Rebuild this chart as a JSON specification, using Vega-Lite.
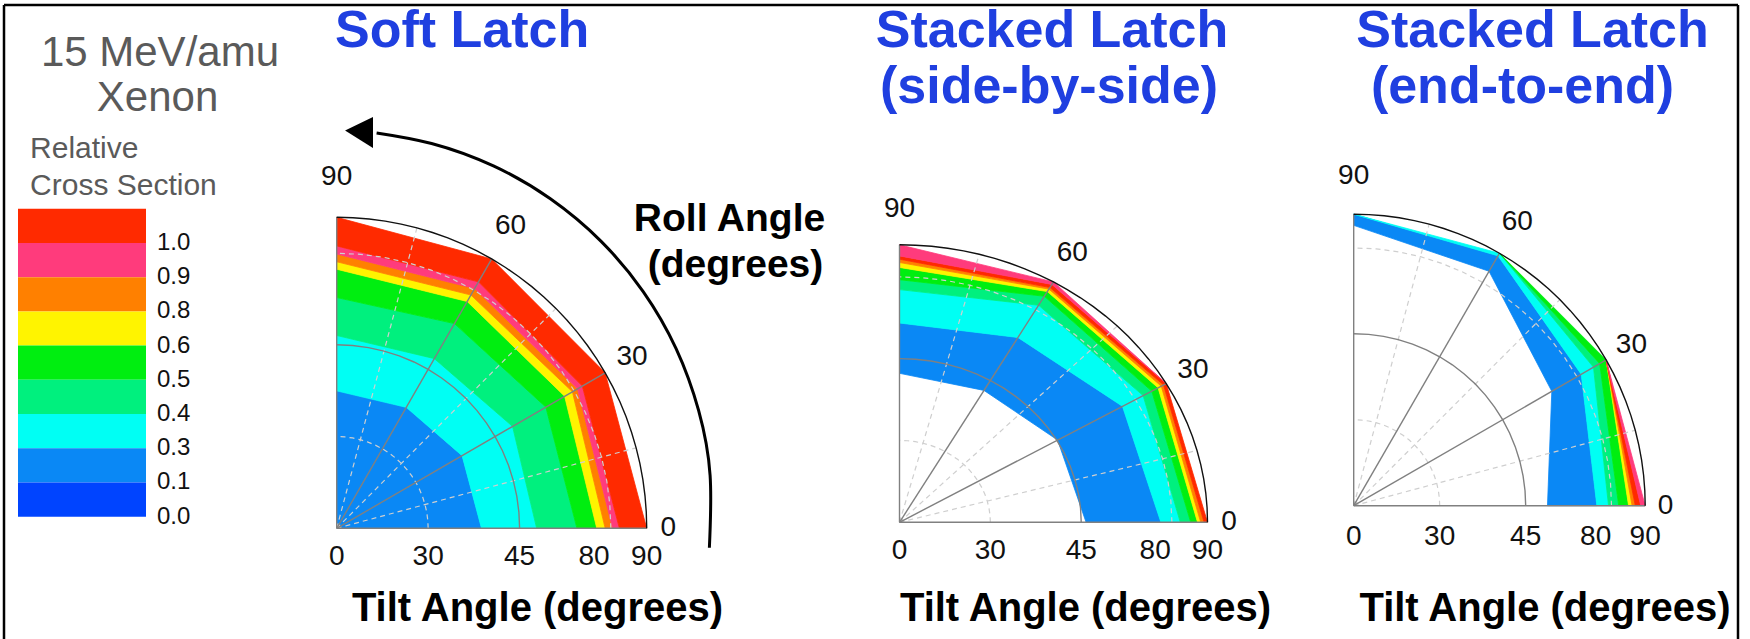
{
"$schema": "https://vega.github.io/schema/vega-lite/v6.json",
"width": 1734, "height": 634,
"autosize": {"type": "none"},
"padding": {"left": 4, "top": 5, "right": 12, "bottom": 0},
"background": "white",
"config": {"view": {"stroke": null}, "text": {"font": "Liberation Sans"}},
"datasets": {
"legend": [
{"b":"1.0+","k":8,"lab":"1.0"},{"b":"0.9-1.0","k":7,"lab":"0.9"},{"b":"0.8-0.9","k":6,"lab":"0.8"},{"b":"0.6-0.8","k":5,"lab":"0.6"},{"b":"0.5-0.6","k":4,"lab":"0.5"},{"b":"0.4-0.5","k":3,"lab":"0.4"},{"b":"0.3-0.4","k":2,"lab":"0.3"},{"b":"0.1-0.3","k":1,"lab":"0.1"},{"b":"0.0-0.1","k":0,"lab":"0.0"}],
"soft": [
{"b":"0.1-0.3","roll":0,"lo":0,"hi":38.75},{"b":"0.1-0.3","roll":30,"lo":0,"hi":38.75},{"b":"0.1-0.3","roll":60,"lo":0,"hi":37.83},{"b":"0.1-0.3","roll":90,"lo":0,"hi":37.47},
{"b":"0.3-0.4","roll":0,"lo":38.75,"hi":53.02},{"b":"0.3-0.4","roll":30,"lo":38.75,"hi":54.48},{"b":"0.3-0.4","roll":60,"lo":37.83,"hi":50.83},{"b":"0.3-0.4","roll":90,"lo":37.47,"hi":49.37},
{"b":"0.4-0.5","roll":0,"lo":53.02,"hi":71.98},{"b":"0.4-0.5","roll":30,"lo":54.48,"hi":72.56},{"b":"0.4-0.5","roll":60,"lo":50.83,"hi":69.79},{"b":"0.4-0.5","roll":90,"lo":49.37,"hi":67.17},
{"b":"0.5-0.6","roll":0,"lo":71.98,"hi":80.53},{"b":"0.5-0.6","roll":30,"lo":72.56,"hi":81.12},{"b":"0.5-0.6","roll":60,"lo":69.79,"hi":80.71},{"b":"0.5-0.6","roll":90,"lo":67.17,"hi":80.18},
{"b":"0.6-0.8","roll":0,"lo":80.53,"hi":82.12},{"b":"0.6-0.8","roll":30,"lo":81.12,"hi":82.82},{"b":"0.6-0.8","roll":60,"lo":80.71,"hi":82.12},{"b":"0.6-0.8","roll":90,"lo":80.18,"hi":81.59},
{"b":"0.8-0.9","roll":0,"lo":82.12,"hi":83.53},{"b":"0.8-0.9","roll":30,"lo":82.82,"hi":83.94},{"b":"0.8-0.9","roll":60,"lo":82.12,"hi":83.53},{"b":"0.8-0.9","roll":90,"lo":81.59,"hi":83.06},
{"b":"0.9-1.0","roll":0,"lo":83.53,"hi":84.82},{"b":"0.9-1.0","roll":30,"lo":83.94,"hi":85.0},{"b":"0.9-1.0","roll":60,"lo":83.53,"hi":85.0},{"b":"0.9-1.0","roll":90,"lo":83.06,"hi":84.59},
{"b":"1.0+","roll":0,"lo":84.82,"hi":90},{"b":"1.0+","roll":30,"lo":85.0,"hi":90},{"b":"1.0+","roll":60,"lo":85.0,"hi":90},{"b":"1.0+","roll":90,"lo":84.59,"hi":90}],
"sbs": [
{"b":"0.1-0.3","roll":0,"lo":47.3,"hi":81.1},{"b":"0.1-0.3","roll":30,"lo":45.4,"hi":80.35},{"b":"0.1-0.3","roll":60,"lo":42.9,"hi":71.1},{"b":"0.1-0.3","roll":90,"lo":42.3,"hi":63.7},
{"b":"0.3-0.4","roll":0,"lo":81.1,"hi":84.8},{"b":"0.3-0.4","roll":30,"lo":80.35,"hi":84.9},{"b":"0.3-0.4","roll":60,"lo":71.1,"hi":84.3},{"b":"0.3-0.4","roll":90,"lo":63.7,"hi":80.5},
{"b":"0.4-0.5","roll":0,"lo":84.8,"hi":86.8},{"b":"0.4-0.5","roll":30,"lo":84.9,"hi":86.8},{"b":"0.4-0.5","roll":60,"lo":84.3,"hi":86.5},{"b":"0.4-0.5","roll":90,"lo":80.5,"hi":82.6},
{"b":"0.5-0.6","roll":0,"lo":86.8,"hi":88.1},{"b":"0.5-0.6","roll":30,"lo":86.8,"hi":88.2},{"b":"0.5-0.6","roll":60,"lo":86.5,"hi":87.65},{"b":"0.5-0.6","roll":90,"lo":82.6,"hi":85.2},
{"b":"0.6-0.8","roll":0,"lo":88.1,"hi":88.7},{"b":"0.6-0.8","roll":30,"lo":88.2,"hi":88.9},{"b":"0.6-0.8","roll":60,"lo":87.65,"hi":88.25},{"b":"0.6-0.8","roll":90,"lo":85.2,"hi":86.25},
{"b":"0.8-0.9","roll":0,"lo":88.7,"hi":89.35},{"b":"0.8-0.9","roll":30,"lo":88.9,"hi":89.4},{"b":"0.8-0.9","roll":60,"lo":88.25,"hi":88.65},{"b":"0.8-0.9","roll":90,"lo":86.25,"hi":86.95},
{"b":"1.0+","roll":0,"lo":89.35,"hi":90},{"b":"1.0+","roll":30,"lo":89.4,"hi":90},{"b":"1.0+","roll":60,"lo":88.65,"hi":89.4},{"b":"1.0+","roll":90,"lo":86.95,"hi":87.65},
{"b":"0.9-1.0","roll":30,"lo":90,"hi":90},{"b":"0.9-1.0","roll":60,"lo":89.4,"hi":90},{"b":"0.9-1.0","roll":90,"lo":87.65,"hi":90}],
"ete": [
{"b":"0.1-0.3","roll":0,"lo":55.9,"hi":80.25},{"b":"0.1-0.3","roll":30,"lo":73.4,"hi":84.2},{"b":"0.1-0.3","roll":60,"lo":85.8,"hi":89.4},{"b":"0.1-0.3","roll":90,"lo":87.75,"hi":90},
{"b":"0.3-0.4","roll":0,"lo":80.25,"hi":82.6},{"b":"0.3-0.4","roll":30,"lo":84.2,"hi":87.05},{"b":"0.3-0.4","roll":60,"lo":89.4,"hi":90},{"b":"0.3-0.4","roll":90,"lo":90,"hi":90},
{"b":"0.4-0.5","roll":0,"lo":82.6,"hi":84.65},{"b":"0.4-0.5","roll":30,"lo":87.05,"hi":88.5},{"b":"0.4-0.5","roll":60,"lo":90,"hi":90},
{"b":"0.5-0.6","roll":0,"lo":84.65,"hi":86.65},{"b":"0.5-0.6","roll":30,"lo":88.5,"hi":90},{"b":"0.5-0.6","roll":60,"lo":90,"hi":90},
{"b":"0.6-0.8","roll":0,"lo":86.65,"hi":87.35},{"b":"0.6-0.8","roll":30,"lo":90,"hi":90},
{"b":"0.8-0.9","roll":0,"lo":87.35,"hi":88.0},{"b":"0.8-0.9","roll":30,"lo":90,"hi":90},
{"b":"1.0+","roll":0,"lo":88.0,"hi":89.1},{"b":"1.0+","roll":30,"lo":90,"hi":90},
{"b":"0.9-1.0","roll":0,"lo":89.1,"hi":90},{"b":"0.9-1.0","roll":30,"lo":90,"hi":90}],
"circles": [
{"t":30,"kind":"minor","roll":[0,5,10,15,20,25,30,35,40,45,50,55,60,65,70,75,80,85,90]},
{"t":45,"kind":"major","roll":[0,5,10,15,20,25,30,35,40,45,50,55,60,65,70,75,80,85,90]},
{"t":83.2,"kind":"minor","roll":[0,5,10,15,20,25,30,35,40,45,50,55,60,65,70,75,80,85,90]},
{"t":90,"kind":"outer","roll":[0,3,6,9,12,15,18,21,24,27,30,33,36,39,42,45,48,51,54,57,60,63,66,69,72,75,78,81,84,87,90]}],
"spokes": [
{"roll":0,"kind":"major","t":[0,90]},{"roll":15,"kind":"minor","t":[0,90]},{"roll":30,"kind":"major","t":[0,90]},{"roll":45,"kind":"minor","t":[0,90]},{"roll":60,"kind":"major","t":[0,90]},{"roll":75,"kind":"minor","t":[0,90]},{"roll":90,"kind":"major","t":[0,90]}],
"tiltTicks": [{"t":0,"lbl":"0"},{"t":30,"lbl":"30"},{"t":45,"lbl":"45"},{"t":80,"lbl":"80"},{"t":90,"lbl":"90"}],
"rollTicks": [{"roll":0,"lbl":"0"},{"roll":30,"lbl":"30"},{"roll":60,"lbl":"60"},{"roll":90,"lbl":"90"}],
"arrow": [{"X":1.2022,"Y":-0.0626,"o":0},{"X":1.2045,"Y":0.1704,"o":1},{"X":1.1674,"Y":0.3791,"o":2},{"X":1.0948,"Y":0.5778,"o":3},{"X":0.9887,"Y":0.7612,"o":4},{"X":0.8522,"Y":0.9235,"o":5},{"X":0.6893,"Y":1.0595,"o":6},{"X":0.5055,"Y":1.1653,"o":7},{"X":0.3061,"Y":1.2374,"o":8},{"X":0.1287,"Y":1.2714,"o":9}],
"arrowHead": [{"X":0.027,"Y":1.2794,"o":0},{"X":0.117,"Y":1.3225,"o":1},{"X":0.117,"Y":1.2228,"o":2}]
},
"resolve": {"scale": {"x": "independent", "y": "independent"}},
"layer": [
{
"data": {"name": "legend"},
"layer": [
{"transform": [{"calculate": "datum.k+1", "as": "k1"}],
 "mark": {"type": "rect"},
 "encoding": {
  "x": {"datum": 0, "type": "quantitative", "scale": {"domain": [-0.1094, 13.4375], "nice": false, "zero": false}, "axis": null},
  "x2": {"datum": 1},
  "y": {"field": "k", "type": "quantitative", "scale": {"domain": [-3.576, 14.956], "nice": false, "zero": false}, "axis": null},
  "y2": {"field": "k1"},
  "color": {"field": "b", "type": "nominal", "scale": {"domain": ["1.0+","0.9-1.0","0.8-0.9","0.6-0.8","0.5-0.6","0.4-0.5","0.3-0.4","0.1-0.3","0.0-0.1"], "range": ["#ff2a00","#ff3b7c","#ff8000","#fff400","#00ee10","#00f07e","#00fff4","#0a88f5","#0044ff"]}, "legend": null}}},
{"mark": {"type": "text", "align": "left", "baseline": "middle", "fontSize": 24, "color": "#111"},
 "encoding": {
  "x": {"datum": 1.086, "type": "quantitative", "scale": {"domain": [-0.1094, 13.4375], "nice": false, "zero": false}, "axis": null},
  "y": {"field": "k", "type": "quantitative", "scale": {"domain": [-3.576, 14.956], "nice": false, "zero": false}, "axis": null},
  "text": {"field": "lab"}}},
{"data": {"values": [{}]},
 "mark": {"type": "rule", "color": "#000", "strokeWidth": 2.5},
 "encoding": {
  "x": {"datum": -0.1094, "type": "quantitative", "scale": {"domain": [-0.1094, 13.4375], "nice": false, "zero": false}, "axis": null},
  "x2": {"datum": 13.4375},
  "y": {"datum": 14.956, "type": "quantitative", "scale": {"domain": [-3.576, 14.956], "nice": false, "zero": false}, "axis": null}}},
{"data": {"values": [{}]},
 "mark": {"type": "rule", "color": "#000", "strokeWidth": 2.5},
 "encoding": {
  "x": {"datum": -0.1094, "type": "quantitative", "scale": {"domain": [-0.1094, 13.4375], "nice": false, "zero": false}, "axis": null},
  "y": {"datum": 14.956, "type": "quantitative", "scale": {"domain": [-3.576, 14.956], "nice": false, "zero": false}, "axis": null},
  "y2": {"datum": -3.576}}},
{"data": {"values": [{}]},
 "mark": {"type": "rule", "color": "#000", "strokeWidth": 2.5},
 "encoding": {
  "x": {"datum": 13.4375, "type": "quantitative", "scale": {"domain": [-0.1094, 13.4375], "nice": false, "zero": false}, "axis": null},
  "y": {"datum": 14.956, "type": "quantitative", "scale": {"domain": [-3.576, 14.956], "nice": false, "zero": false}, "axis": null},
  "y2": {"datum": -3.576}}},
{"data": {"values": [{}]},
 "mark": {"type": "text", "text": "15 MeV/amu", "align": "center", "baseline": "middle", "fontSize": 42, "color": "#5a5a5a"},
 "encoding": {
  "x": {"datum": 1.109, "type": "quantitative", "scale": {"domain": [-0.1094, 13.4375], "nice": false, "zero": false}, "axis": null},
  "y": {"datum": 13.567, "type": "quantitative", "scale": {"domain": [-3.576, 14.956], "nice": false, "zero": false}, "axis": null}}},
{"data": {"values": [{}]},
 "mark": {"type": "text", "text": "Xenon", "align": "center", "baseline": "middle", "fontSize": 42, "color": "#5a5a5a"},
 "encoding": {
  "x": {"datum": 1.09, "type": "quantitative", "scale": {"domain": [-0.1094, 13.4375], "nice": false, "zero": false}, "axis": null},
  "y": {"datum": 12.237, "type": "quantitative", "scale": {"domain": [-3.576, 14.956], "nice": false, "zero": false}, "axis": null}}},
{"data": {"values": [{}]},
 "mark": {"type": "text", "text": "Relative", "align": "left", "baseline": "middle", "fontSize": 30, "color": "#5a5a5a"},
 "encoding": {
  "x": {"datum": 0.094, "type": "quantitative", "scale": {"domain": [-0.1094, 13.4375], "nice": false, "zero": false}, "axis": null},
  "y": {"datum": 10.76, "type": "quantitative", "scale": {"domain": [-3.576, 14.956], "nice": false, "zero": false}, "axis": null}}},
{"data": {"values": [{}]},
 "mark": {"type": "text", "text": "Cross Section", "align": "left", "baseline": "middle", "fontSize": 30, "color": "#5a5a5a"},
 "encoding": {
  "x": {"datum": 0.094, "type": "quantitative", "scale": {"domain": [-0.1094, 13.4375], "nice": false, "zero": false}, "axis": null},
  "y": {"datum": 9.664, "type": "quantitative", "scale": {"domain": [-3.576, 14.956], "nice": false, "zero": false}, "axis": null}}}
]
},
{
"encoding": {
 "x": {"field": "X", "type": "quantitative", "scale": {"domain": [-1.07323, 4.52032], "nice": false, "zero": false}, "axis": null},
 "y": {"field": "Y", "type": "quantitative", "scale": {"domain": [-0.35595, 1.68264], "nice": false, "zero": false}, "axis": null}},
"layer": [
{"data": {"name": "soft"},
 "transform": [{"fold": ["lo","hi"], "as": ["edge","t"]},
  {"calculate": "datum.edge=='hi' ? datum.roll : 1000-datum.roll", "as": "ord"},
  {"calculate": "datum.t<=30 ? datum.t*0.295/30 : datum.t<=45 ? 0.295+(datum.t-30)*0.295/15 : datum.t<=80 ? 0.59+(datum.t-45)*0.24/35 : 0.83+(datum.t-80)*0.017", "as": "r"},
  {"calculate": "datum.r*cos(datum.roll*PI/180)", "as": "X"},
  {"calculate": "datum.r*sin(datum.roll*PI/180)", "as": "Y"}],
 "mark": {"type": "line", "filled": true, "interpolate": "linear-closed", "strokeWidth": 0.8},
 "encoding": {
  "color": {"field": "b", "type": "nominal", "scale": {"domain": ["1.0+","0.9-1.0","0.8-0.9","0.6-0.8","0.5-0.6","0.4-0.5","0.3-0.4","0.1-0.3","0.0-0.1"], "range": ["#ff2a00","#ff3b7c","#ff8000","#fff400","#00ee10","#00f07e","#00fff4","#0a88f5","#0044ff"]}, "legend": null},
  "stroke": {"field": "b", "type": "nominal", "scale": {"domain": ["1.0+","0.9-1.0","0.8-0.9","0.6-0.8","0.5-0.6","0.4-0.5","0.3-0.4","0.1-0.3","0.0-0.1"], "range": ["#ff2a00","#ff3b7c","#ff8000","#fff400","#00ee10","#00f07e","#00fff4","#0a88f5","#0044ff"]}, "legend": null},
  "order": {"field": "ord", "type": "quantitative"}}},
{"data": {"name": "circles"},
 "transform": [{"filter": "datum.kind=='minor'"}, {"flatten": ["roll"]},
  {"calculate": "datum.t<=30 ? datum.t*0.295/30 : datum.t<=45 ? 0.295+(datum.t-30)*0.295/15 : datum.t<=80 ? 0.59+(datum.t-45)*0.24/35 : 0.83+(datum.t-80)*0.017", "as": "r"},
  {"calculate": "datum.r*cos(datum.roll*PI/180)", "as": "X"},
  {"calculate": "datum.r*sin(datum.roll*PI/180)", "as": "Y"}],
 "mark": {"type": "line", "color": "#cfcfcf", "strokeWidth": 1.2, "strokeDash": [5,4]},
 "encoding": {"detail": {"field": "t", "type": "nominal"}, "order": {"field": "roll", "type": "quantitative"}}},
{"data": {"name": "spokes"},
 "transform": [{"filter": "datum.kind=='minor'"}, {"flatten": ["t"]},
  {"calculate": "datum.t<=30 ? datum.t*0.295/30 : datum.t<=45 ? 0.295+(datum.t-30)*0.295/15 : datum.t<=80 ? 0.59+(datum.t-45)*0.24/35 : 0.83+(datum.t-80)*0.017", "as": "r"},
  {"calculate": "datum.r*cos(datum.roll*PI/180)", "as": "X"},
  {"calculate": "datum.r*sin(datum.roll*PI/180)", "as": "Y"}],
 "mark": {"type": "line", "color": "#cfcfcf", "strokeWidth": 1.2, "strokeDash": [5,4]},
 "encoding": {"detail": {"field": "roll", "type": "nominal"}, "order": {"field": "t", "type": "quantitative"}}},
{"data": {"name": "circles"},
 "transform": [{"filter": "datum.kind=='major'"}, {"flatten": ["roll"]},
  {"calculate": "datum.t<=30 ? datum.t*0.295/30 : datum.t<=45 ? 0.295+(datum.t-30)*0.295/15 : datum.t<=80 ? 0.59+(datum.t-45)*0.24/35 : 0.83+(datum.t-80)*0.017", "as": "r"},
  {"calculate": "datum.r*cos(datum.roll*PI/180)", "as": "X"},
  {"calculate": "datum.r*sin(datum.roll*PI/180)", "as": "Y"}],
 "mark": {"type": "line", "color": "#808080", "strokeWidth": 1.4},
 "encoding": {"detail": {"field": "t", "type": "nominal"}, "order": {"field": "roll", "type": "quantitative"}}},
{"data": {"name": "spokes"},
 "transform": [{"filter": "datum.kind=='major'"}, {"flatten": ["t"]},
  {"calculate": "datum.t<=30 ? datum.t*0.295/30 : datum.t<=45 ? 0.295+(datum.t-30)*0.295/15 : datum.t<=80 ? 0.59+(datum.t-45)*0.24/35 : 0.83+(datum.t-80)*0.017", "as": "r"},
  {"calculate": "datum.r*cos(datum.roll*PI/180)", "as": "X"},
  {"calculate": "datum.r*sin(datum.roll*PI/180)", "as": "Y"}],
 "mark": {"type": "line", "color": "#808080", "strokeWidth": 1.4},
 "encoding": {"detail": {"field": "roll", "type": "nominal"}, "order": {"field": "t", "type": "quantitative"}}},
{"data": {"name": "circles"},
 "transform": [{"filter": "datum.kind=='outer'"}, {"flatten": ["roll"]},
  {"calculate": "1", "as": "r"},
  {"calculate": "datum.r*cos(datum.roll*PI/180)", "as": "X"},
  {"calculate": "datum.r*sin(datum.roll*PI/180)", "as": "Y"}],
 "mark": {"type": "line", "color": "#111", "strokeWidth": 1.4},
 "encoding": {"detail": {"field": "t", "type": "nominal"}, "order": {"field": "roll", "type": "quantitative"}}},
{"data": {"name": "tiltTicks"},
 "transform": [
  {"calculate": "datum.t<=30 ? datum.t*0.295/30 : datum.t<=45 ? 0.295+(datum.t-30)*0.295/15 : datum.t<=80 ? 0.59+(datum.t-45)*0.24/35 : 0.83+(datum.t-80)*0.017", "as": "X"},
  {"calculate": "0", "as": "Y"}],
 "mark": {"type": "text", "fontSize": 28, "baseline": "middle", "dy": 29, "color": "#111"},
 "encoding": {"text": {"field": "lbl"}}},
{"data": {"name": "rollTicks"},
 "transform": [
  {"calculate": "1.07+0.06*sin(datum.roll*PI/180)", "as": "rr"},
  {"calculate": "datum.rr*cos(datum.roll*PI/180)", "as": "X"},
  {"calculate": "datum.rr*sin(datum.roll*PI/180)", "as": "Y"}],
 "mark": {"type": "text", "fontSize": 28, "baseline": "middle", "color": "#111"},
 "encoding": {"text": {"field": "lbl"}}},
{"data": {"name": "arrow"},
 "mark": {"type": "line", "color": "#000", "strokeWidth": 3, "interpolate": "natural"},
 "encoding": {"order": {"field": "o", "type": "quantitative"}}},
{"data": {"name": "arrowHead"},
 "mark": {"type": "line", "filled": true, "color": "#000", "interpolate": "linear-closed"},
 "encoding": {"order": {"field": "o", "type": "quantitative"}}}
]
},
{
"data": {"values": [{}]},
"layer": [
{"mark": {"type": "text", "text": "Soft Latch", "align": "left", "baseline": "middle", "fontSize": 52, "fontWeight": "bold", "color": "#1f3fe0"},
 "encoding": {
  "x": {"datum": -0.0055, "type": "quantitative", "scale": {"domain": [-1.07323, 4.52032], "nice": false, "zero": false}, "axis": null},
  "y": {"datum": 1.5997, "type": "quantitative", "scale": {"domain": [-0.35595, 1.68264], "nice": false, "zero": false}, "axis": null}}},
{"mark": {"type": "text", "text": "Roll Angle", "align": "center", "baseline": "middle", "fontSize": 39, "fontWeight": "bold", "color": "#000"},
 "encoding": {
  "x": {"datum": 1.2671, "type": "quantitative", "scale": {"domain": [-1.07323, 4.52032], "nice": false, "zero": false}, "axis": null},
  "y": {"datum": 0.9945, "type": "quantitative", "scale": {"domain": [-0.35595, 1.68264], "nice": false, "zero": false}, "axis": null}}},
{"mark": {"type": "text", "text": "(degrees)", "align": "center", "baseline": "middle", "fontSize": 39, "fontWeight": "bold", "color": "#000"},
 "encoding": {
  "x": {"datum": 1.2865, "type": "quantitative", "scale": {"domain": [-1.07323, 4.52032], "nice": false, "zero": false}, "axis": null},
  "y": {"datum": 0.8466, "type": "quantitative", "scale": {"domain": [-0.35595, 1.68264], "nice": false, "zero": false}, "axis": null}}},
{"mark": {"type": "text", "text": "Tilt Angle (degrees)", "align": "center", "baseline": "middle", "fontSize": 40, "fontWeight": "bold", "color": "#000"},
 "encoding": {
  "x": {"datum": 0.6477, "type": "quantitative", "scale": {"domain": [-1.07323, 4.52032], "nice": false, "zero": false}, "axis": null},
  "y": {"datum": -0.2595, "type": "quantitative", "scale": {"domain": [-0.35595, 1.68264], "nice": false, "zero": false}, "axis": null}}}
]
},
{
"encoding": {
 "x": {"field": "X", "type": "quantitative", "scale": {"domain": [-2.90747, 2.7224], "nice": false, "zero": false}, "axis": null},
 "y": {"field": "Y", "type": "quantitative", "scale": {"domain": [-0.42054, 1.86414], "nice": false, "zero": false}, "axis": null}},
"layer": [
{"data": {"name": "sbs"},
 "transform": [{"fold": ["lo","hi"], "as": ["edge","t"]},
  {"calculate": "datum.edge=='hi' ? datum.roll : 1000-datum.roll", "as": "ord"},
  {"calculate": "datum.t<=30 ? datum.t*0.295/30 : datum.t<=45 ? 0.295+(datum.t-30)*0.295/15 : datum.t<=80 ? 0.59+(datum.t-45)*0.24/35 : 0.83+(datum.t-80)*0.017", "as": "r"},
  {"calculate": "datum.r*cos(datum.roll*PI/180)", "as": "X"},
  {"calculate": "datum.r*sin(datum.roll*PI/180)", "as": "Y"}],
 "mark": {"type": "line", "filled": true, "interpolate": "linear-closed", "strokeWidth": 0.8},
 "encoding": {
  "color": {"field": "b", "type": "nominal", "scale": {"domain": ["1.0+","0.9-1.0","0.8-0.9","0.6-0.8","0.5-0.6","0.4-0.5","0.3-0.4","0.1-0.3","0.0-0.1"], "range": ["#ff2a00","#ff3b7c","#ff8000","#fff400","#00ee10","#00f07e","#00fff4","#0a88f5","#0044ff"]}, "legend": null},
  "stroke": {"field": "b", "type": "nominal", "scale": {"domain": ["1.0+","0.9-1.0","0.8-0.9","0.6-0.8","0.5-0.6","0.4-0.5","0.3-0.4","0.1-0.3","0.0-0.1"], "range": ["#ff2a00","#ff3b7c","#ff8000","#fff400","#00ee10","#00f07e","#00fff4","#0a88f5","#0044ff"]}, "legend": null},
  "order": {"field": "ord", "type": "quantitative"}}},
{"data": {"name": "circles"},
 "transform": [{"filter": "datum.kind=='minor'"}, {"flatten": ["roll"]},
  {"calculate": "datum.t<=30 ? datum.t*0.295/30 : datum.t<=45 ? 0.295+(datum.t-30)*0.295/15 : datum.t<=80 ? 0.59+(datum.t-45)*0.24/35 : 0.83+(datum.t-80)*0.017", "as": "r"},
  {"calculate": "datum.r*cos(datum.roll*PI/180)", "as": "X"},
  {"calculate": "datum.r*sin(datum.roll*PI/180)", "as": "Y"}],
 "mark": {"type": "line", "color": "#cfcfcf", "strokeWidth": 1.2, "strokeDash": [5,4]},
 "encoding": {"detail": {"field": "t", "type": "nominal"}, "order": {"field": "roll", "type": "quantitative"}}},
{"data": {"name": "spokes"},
 "transform": [{"filter": "datum.kind=='minor'"}, {"flatten": ["t"]},
  {"calculate": "datum.t<=30 ? datum.t*0.295/30 : datum.t<=45 ? 0.295+(datum.t-30)*0.295/15 : datum.t<=80 ? 0.59+(datum.t-45)*0.24/35 : 0.83+(datum.t-80)*0.017", "as": "r"},
  {"calculate": "datum.r*cos(datum.roll*PI/180)", "as": "X"},
  {"calculate": "datum.r*sin(datum.roll*PI/180)", "as": "Y"}],
 "mark": {"type": "line", "color": "#cfcfcf", "strokeWidth": 1.2, "strokeDash": [5,4]},
 "encoding": {"detail": {"field": "roll", "type": "nominal"}, "order": {"field": "t", "type": "quantitative"}}},
{"data": {"name": "circles"},
 "transform": [{"filter": "datum.kind=='major'"}, {"flatten": ["roll"]},
  {"calculate": "datum.t<=30 ? datum.t*0.295/30 : datum.t<=45 ? 0.295+(datum.t-30)*0.295/15 : datum.t<=80 ? 0.59+(datum.t-45)*0.24/35 : 0.83+(datum.t-80)*0.017", "as": "r"},
  {"calculate": "datum.r*cos(datum.roll*PI/180)", "as": "X"},
  {"calculate": "datum.r*sin(datum.roll*PI/180)", "as": "Y"}],
 "mark": {"type": "line", "color": "#808080", "strokeWidth": 1.4},
 "encoding": {"detail": {"field": "t", "type": "nominal"}, "order": {"field": "roll", "type": "quantitative"}}},
{"data": {"name": "spokes"},
 "transform": [{"filter": "datum.kind=='major'"}, {"flatten": ["t"]},
  {"calculate": "datum.t<=30 ? datum.t*0.295/30 : datum.t<=45 ? 0.295+(datum.t-30)*0.295/15 : datum.t<=80 ? 0.59+(datum.t-45)*0.24/35 : 0.83+(datum.t-80)*0.017", "as": "r"},
  {"calculate": "datum.r*cos(datum.roll*PI/180)", "as": "X"},
  {"calculate": "datum.r*sin(datum.roll*PI/180)", "as": "Y"}],
 "mark": {"type": "line", "color": "#808080", "strokeWidth": 1.4},
 "encoding": {"detail": {"field": "roll", "type": "nominal"}, "order": {"field": "t", "type": "quantitative"}}},
{"data": {"name": "circles"},
 "transform": [{"filter": "datum.kind=='outer'"}, {"flatten": ["roll"]},
  {"calculate": "1", "as": "r"},
  {"calculate": "datum.r*cos(datum.roll*PI/180)", "as": "X"},
  {"calculate": "datum.r*sin(datum.roll*PI/180)", "as": "Y"}],
 "mark": {"type": "line", "color": "#111", "strokeWidth": 1.4},
 "encoding": {"detail": {"field": "t", "type": "nominal"}, "order": {"field": "roll", "type": "quantitative"}}},
{"data": {"name": "tiltTicks"},
 "transform": [
  {"calculate": "datum.t<=30 ? datum.t*0.295/30 : datum.t<=45 ? 0.295+(datum.t-30)*0.295/15 : datum.t<=80 ? 0.59+(datum.t-45)*0.24/35 : 0.83+(datum.t-80)*0.017", "as": "X"},
  {"calculate": "0", "as": "Y"}],
 "mark": {"type": "text", "fontSize": 28, "baseline": "middle", "dy": 29, "color": "#111"},
 "encoding": {"text": {"field": "lbl"}}},
{"data": {"name": "rollTicks"},
 "transform": [
  {"calculate": "1.07+0.06*sin(datum.roll*PI/180)", "as": "rr"},
  {"calculate": "datum.rr*cos(datum.roll*PI/180)", "as": "X"},
  {"calculate": "datum.rr*sin(datum.roll*PI/180)", "as": "Y"}],
 "mark": {"type": "text", "fontSize": 28, "baseline": "middle", "color": "#111"},
 "encoding": {"text": {"field": "lbl"}}}
]
},
{
"data": {"values": [{}]},
"layer": [
{"mark": {"type": "text", "text": "Stacked Latch", "align": "center", "baseline": "middle", "fontSize": 52, "fontWeight": "bold", "color": "#1f3fe0"},
 "encoding": {
  "x": {"datum": 0.4951, "type": "quantitative", "scale": {"domain": [-2.90747, 2.7224], "nice": false, "zero": false}, "axis": null},
  "y": {"datum": 1.7705, "type": "quantitative", "scale": {"domain": [-0.42054, 1.86414], "nice": false, "zero": false}, "axis": null}}},
{"mark": {"type": "text", "text": "(side-by-side)", "align": "center", "baseline": "middle", "fontSize": 52, "fontWeight": "bold", "color": "#1f3fe0"},
 "encoding": {
  "x": {"datum": 0.4854, "type": "quantitative", "scale": {"domain": [-2.90747, 2.7224], "nice": false, "zero": false}, "axis": null},
  "y": {"datum": 1.5686, "type": "quantitative", "scale": {"domain": [-0.42054, 1.86414], "nice": false, "zero": false}, "axis": null}}},
{"mark": {"type": "text", "text": "Tilt Angle (degrees)", "align": "center", "baseline": "middle", "fontSize": 40, "fontWeight": "bold", "color": "#000"},
 "encoding": {
  "x": {"datum": 0.6039, "type": "quantitative", "scale": {"domain": [-2.90747, 2.7224], "nice": false, "zero": false}, "axis": null},
  "y": {"datum": -0.3124, "type": "quantitative", "scale": {"domain": [-0.42054, 1.86414], "nice": false, "zero": false}, "axis": null}}}
]
},
{
"encoding": {
 "x": {"field": "X", "type": "quantitative", "scale": {"domain": [-4.63019, 1.31835], "nice": false, "zero": false}, "axis": null},
 "y": {"field": "Y", "type": "quantitative", "scale": {"domain": [-0.45729, 1.71767], "nice": false, "zero": false}, "axis": null}},
"layer": [
{"data": {"name": "ete"},
 "transform": [{"fold": ["lo","hi"], "as": ["edge","t"]},
  {"calculate": "datum.edge=='hi' ? datum.roll : 1000-datum.roll", "as": "ord"},
  {"calculate": "datum.t<=30 ? datum.t*0.295/30 : datum.t<=45 ? 0.295+(datum.t-30)*0.295/15 : datum.t<=80 ? 0.59+(datum.t-45)*0.24/35 : 0.83+(datum.t-80)*0.017", "as": "r"},
  {"calculate": "datum.r*cos(datum.roll*PI/180)", "as": "X"},
  {"calculate": "datum.r*sin(datum.roll*PI/180)", "as": "Y"}],
 "mark": {"type": "line", "filled": true, "interpolate": "linear-closed", "strokeWidth": 0.8},
 "encoding": {
  "color": {"field": "b", "type": "nominal", "scale": {"domain": ["1.0+","0.9-1.0","0.8-0.9","0.6-0.8","0.5-0.6","0.4-0.5","0.3-0.4","0.1-0.3","0.0-0.1"], "range": ["#ff2a00","#ff3b7c","#ff8000","#fff400","#00ee10","#00f07e","#00fff4","#0a88f5","#0044ff"]}, "legend": null},
  "stroke": {"field": "b", "type": "nominal", "scale": {"domain": ["1.0+","0.9-1.0","0.8-0.9","0.6-0.8","0.5-0.6","0.4-0.5","0.3-0.4","0.1-0.3","0.0-0.1"], "range": ["#ff2a00","#ff3b7c","#ff8000","#fff400","#00ee10","#00f07e","#00fff4","#0a88f5","#0044ff"]}, "legend": null},
  "order": {"field": "ord", "type": "quantitative"}}},
{"data": {"name": "circles"},
 "transform": [{"filter": "datum.kind=='minor'"}, {"flatten": ["roll"]},
  {"calculate": "datum.t<=30 ? datum.t*0.295/30 : datum.t<=45 ? 0.295+(datum.t-30)*0.295/15 : datum.t<=80 ? 0.59+(datum.t-45)*0.24/35 : 0.83+(datum.t-80)*0.017", "as": "r"},
  {"calculate": "datum.r*cos(datum.roll*PI/180)", "as": "X"},
  {"calculate": "datum.r*sin(datum.roll*PI/180)", "as": "Y"}],
 "mark": {"type": "line", "color": "#cfcfcf", "strokeWidth": 1.2, "strokeDash": [5,4]},
 "encoding": {"detail": {"field": "t", "type": "nominal"}, "order": {"field": "roll", "type": "quantitative"}}},
{"data": {"name": "spokes"},
 "transform": [{"filter": "datum.kind=='minor'"}, {"flatten": ["t"]},
  {"calculate": "datum.t<=30 ? datum.t*0.295/30 : datum.t<=45 ? 0.295+(datum.t-30)*0.295/15 : datum.t<=80 ? 0.59+(datum.t-45)*0.24/35 : 0.83+(datum.t-80)*0.017", "as": "r"},
  {"calculate": "datum.r*cos(datum.roll*PI/180)", "as": "X"},
  {"calculate": "datum.r*sin(datum.roll*PI/180)", "as": "Y"}],
 "mark": {"type": "line", "color": "#cfcfcf", "strokeWidth": 1.2, "strokeDash": [5,4]},
 "encoding": {"detail": {"field": "roll", "type": "nominal"}, "order": {"field": "t", "type": "quantitative"}}},
{"data": {"name": "circles"},
 "transform": [{"filter": "datum.kind=='major'"}, {"flatten": ["roll"]},
  {"calculate": "datum.t<=30 ? datum.t*0.295/30 : datum.t<=45 ? 0.295+(datum.t-30)*0.295/15 : datum.t<=80 ? 0.59+(datum.t-45)*0.24/35 : 0.83+(datum.t-80)*0.017", "as": "r"},
  {"calculate": "datum.r*cos(datum.roll*PI/180)", "as": "X"},
  {"calculate": "datum.r*sin(datum.roll*PI/180)", "as": "Y"}],
 "mark": {"type": "line", "color": "#808080", "strokeWidth": 1.4},
 "encoding": {"detail": {"field": "t", "type": "nominal"}, "order": {"field": "roll", "type": "quantitative"}}},
{"data": {"name": "spokes"},
 "transform": [{"filter": "datum.kind=='major'"}, {"flatten": ["t"]},
  {"calculate": "datum.t<=30 ? datum.t*0.295/30 : datum.t<=45 ? 0.295+(datum.t-30)*0.295/15 : datum.t<=80 ? 0.59+(datum.t-45)*0.24/35 : 0.83+(datum.t-80)*0.017", "as": "r"},
  {"calculate": "datum.r*cos(datum.roll*PI/180)", "as": "X"},
  {"calculate": "datum.r*sin(datum.roll*PI/180)", "as": "Y"}],
 "mark": {"type": "line", "color": "#808080", "strokeWidth": 1.4},
 "encoding": {"detail": {"field": "roll", "type": "nominal"}, "order": {"field": "t", "type": "quantitative"}}},
{"data": {"name": "circles"},
 "transform": [{"filter": "datum.kind=='outer'"}, {"flatten": ["roll"]},
  {"calculate": "1", "as": "r"},
  {"calculate": "datum.r*cos(datum.roll*PI/180)", "as": "X"},
  {"calculate": "datum.r*sin(datum.roll*PI/180)", "as": "Y"}],
 "mark": {"type": "line", "color": "#111", "strokeWidth": 1.4},
 "encoding": {"detail": {"field": "t", "type": "nominal"}, "order": {"field": "roll", "type": "quantitative"}}},
{"data": {"name": "tiltTicks"},
 "transform": [
  {"calculate": "datum.t<=30 ? datum.t*0.295/30 : datum.t<=45 ? 0.295+(datum.t-30)*0.295/15 : datum.t<=80 ? 0.59+(datum.t-45)*0.24/35 : 0.83+(datum.t-80)*0.017", "as": "X"},
  {"calculate": "0", "as": "Y"}],
 "mark": {"type": "text", "fontSize": 28, "baseline": "middle", "dy": 31, "color": "#111"},
 "encoding": {"text": {"field": "lbl"}}},
{"data": {"name": "rollTicks"},
 "transform": [
  {"calculate": "1.07+0.06*sin(datum.roll*PI/180)", "as": "rr"},
  {"calculate": "datum.rr*cos(datum.roll*PI/180)", "as": "X"},
  {"calculate": "datum.rr*sin(datum.roll*PI/180)", "as": "Y"}],
 "mark": {"type": "text", "fontSize": 28, "baseline": "middle", "color": "#111"},
 "encoding": {"text": {"field": "lbl"}}}
]
},
{
"data": {"values": [{}]},
"layer": [
{"mark": {"type": "text", "text": "Stacked Latch", "align": "center", "baseline": "middle", "fontSize": 52, "fontWeight": "bold", "color": "#1f3fe0"},
 "encoding": {
  "x": {"datum": 0.6134, "type": "quantitative", "scale": {"domain": [-4.63019, 1.31835], "nice": false, "zero": false}, "axis": null},
  "y": {"datum": 1.6285, "type": "quantitative", "scale": {"domain": [-0.45729, 1.71767], "nice": false, "zero": false}, "axis": null}}},
{"mark": {"type": "text", "text": "(end-to-end)", "align": "center", "baseline": "middle", "fontSize": 52, "fontWeight": "bold", "color": "#1f3fe0"},
 "encoding": {
  "x": {"datum": 0.5791, "type": "quantitative", "scale": {"domain": [-4.63019, 1.31835], "nice": false, "zero": false}, "axis": null},
  "y": {"datum": 1.4364, "type": "quantitative", "scale": {"domain": [-0.45729, 1.71767], "nice": false, "zero": false}, "axis": null}}},
{"mark": {"type": "text", "text": "Tilt Angle (degrees)", "align": "center", "baseline": "middle", "fontSize": 40, "fontWeight": "bold", "color": "#000"},
 "encoding": {
  "x": {"datum": 0.6563, "type": "quantitative", "scale": {"domain": [-4.63019, 1.31835], "nice": false, "zero": false}, "axis": null},
  "y": {"datum": -0.3544, "type": "quantitative", "scale": {"domain": [-0.45729, 1.71767], "nice": false, "zero": false}, "axis": null}}}
]
}
]
}
